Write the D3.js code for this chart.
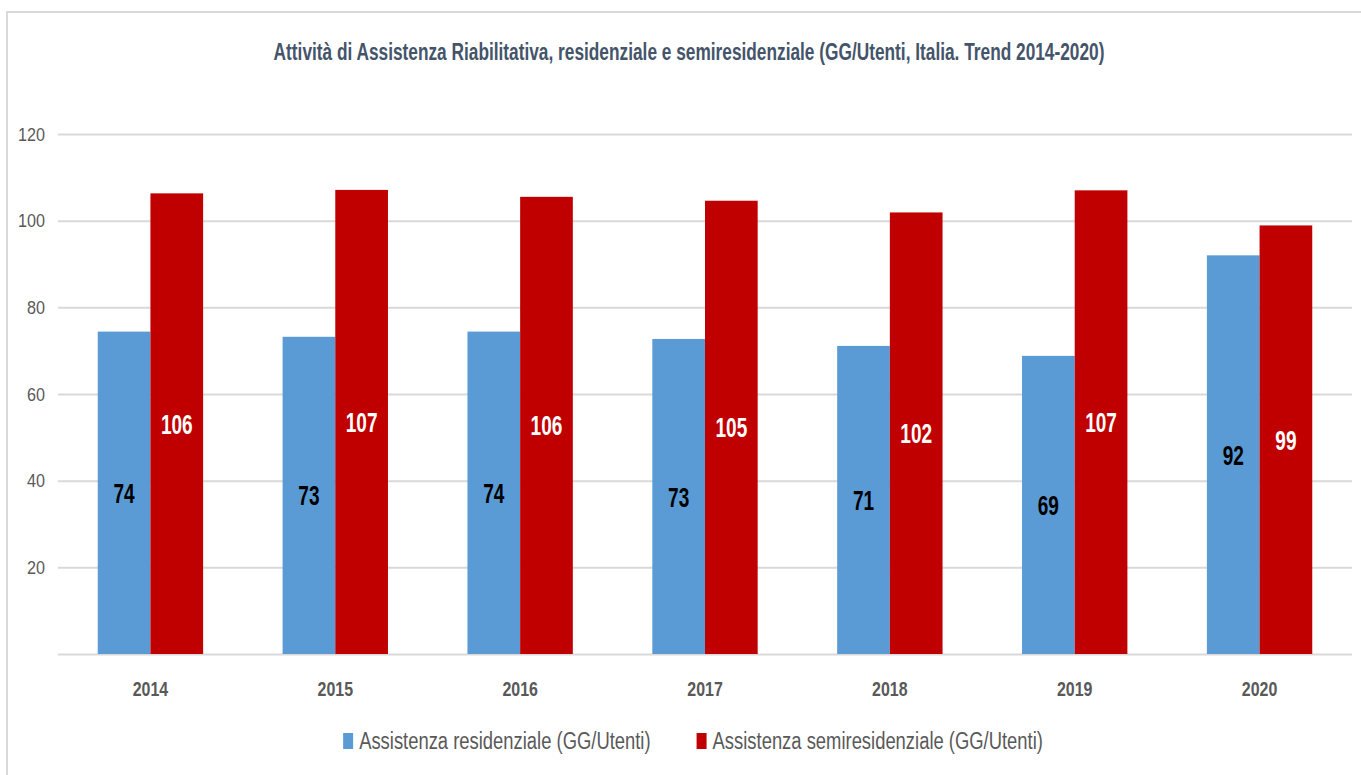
<!DOCTYPE html>
<html>
<head>
<meta charset="utf-8">
<script src="https://cdn.jsdelivr.net/npm/d3@7"></script>
<style>
  body { margin: 0; background: #fff; }
  svg { display: block; font-family: "Liberation Sans Narrow", "Liberation Sans", sans-serif; }
</style>
</head>
<body>
<div id="chart"></div>
<script>
///// Data

let years = ["2014", "2015", "2016", "2017", "2018", "2019", "2020"];
let residenziale = [74.4, 73.2, 74.4, 72.7, 71.1, 68.8, 92.0];
let semiresidenziale = [106.3, 107.1, 105.5, 104.6, 101.9, 107.0, 98.9];
let seriesNames = ["Assistenza residenziale (GG/Utenti)", "Assistenza semiresidenziale (GG/Utenti)"];
let yTicks = [20, 40, 60, 80, 100, 120];
let titleText = "Attività di Assistenza Riabilitativa, residenziale e semiresidenziale (GG/Utenti, Italia. Trend 2014-2020)";

///// Layout

let W = 1361, H = 775;
let margin = { top: 134, right: 9, bottom: 121, left: 58 },
    width = W - margin.left - margin.right,
    height = H - margin.top - margin.bottom;

let colors = ["#5b9bd5", "#c00000"];
let labelColors = ["#000000", "#ffffff"];

// the reference font is narrow: squeeze glyphs horizontally
function squeeze(sel, k) {
    sel.each(function() {
        let len = this.getComputedTextLength();
        d3.select(this).attr("textLength", len * k).attr("lengthAdjust", "spacingAndGlyphs");
    });
}

let svg = d3.select("#chart").append("svg")
    .attr("width", W)
    .attr("height", H);

svg.append("rect").attr("width", W).attr("height", H).attr("fill", "#fff");

// chart frame (top and left edge visible)
svg.append("path")
    .attr("d", `M7,${H} V12 H${W}`)
    .attr("fill", "none")
    .attr("stroke", "#d9d9d9")
    .attr("stroke-width", 2);

// title (scaled horizontally to mimic the condensed face)
svg.append("text")
    .attr("transform", "translate(689,60) scale(0.72,1)")
    .attr("text-anchor", "middle")
    .attr("font-size", 24)
    .attr("font-weight", "bold")
    .attr("fill", "#44546a")
    .text(titleText);

let g = svg.append("g")
    .attr("transform", `translate(${margin.left},${margin.top})`);

// scales
let x0 = d3.scaleBand().domain(years).range([0, width]).paddingInner(0.43).paddingOuter(0.215);
let x1 = d3.scaleBand().domain([0, 1]).range([0, x0.bandwidth()]);
let y = d3.scaleLinear().domain([0, 120]).range([height, 0]);

// gridlines + y labels
let yAxis = g.append("g")
    .attr("class", "y axis")
    .call(d3.axisLeft(y).tickValues([0].concat(yTicks)).tickSize(-width).tickFormat(d => d === 0 ? "" : d));
yAxis.select(".domain").remove();
yAxis.attr("font-size", 19).attr("font-family", null);
yAxis.selectAll(".tick line").attr("stroke", "#d9d9d9").attr("stroke-width", 2);
yAxis.selectAll(".tick text")
    .attr("x", -13)
    .attr("fill", "#595959")
    .call(squeeze, 0.85);

// bars
let rows = years.map((yr, i) => ({ year: yr, values: [residenziale[i], semiresidenziale[i]] }));

let groups = g.selectAll(".grp")
    .data(rows)
    .enter().append("g")
    .attr("class", "grp")
    .attr("transform", d => `translate(${x0(d.year)},0)`);

groups.selectAll("rect")
    .data(d => d.values.map((v, s) => ({ s: s, v: v })))
    .enter().append("rect")
    .attr("x", d => x1(d.s))
    .attr("width", x1.bandwidth())
    .attr("y", d => y(d.v))
    .attr("height", d => height - y(d.v))
    .attr("fill", d => colors[d.s]);

// data labels, centred in the bar
groups.selectAll(".lbl")
    .data(d => d.values.map((v, s) => ({ s: s, v: v })))
    .enter().append("text")
    .attr("class", "lbl")
    .attr("x", d => x1(d.s) + x1.bandwidth() / 2)
    .attr("y", d => (y(d.v) + height) / 2)
    .attr("dy", "0.36em")
    .attr("text-anchor", "middle")
    .attr("font-size", 28)
    .attr("font-weight", "bold")
    .attr("fill", d => labelColors[d.s])
    .text(d => d3.format(".0f")(d.v))
    .call(squeeze, 0.68);

// x labels
let xAxis = g.append("g")
    .attr("class", "x axis")
    .attr("transform", `translate(0,${height})`)
    .call(d3.axisBottom(x0).tickSize(0).tickPadding(27));
xAxis.select(".domain").remove();
xAxis.attr("font-size", 21).attr("font-family", null).attr("font-weight", "bold");
xAxis.selectAll(".tick text")
    .attr("fill", "#595959")
    .call(squeeze, 0.76);

// legend
let legend = svg.append("g").attr("class", "legend");
let items = legend.selectAll(".item")
    .data(seriesNames)
    .enter().append("g")
    .attr("class", "item");

items.append("rect")
    .attr("width", 10)
    .attr("height", 16)
    .attr("y", -8)
    .attr("fill", (d, i) => colors[i]);

items.append("text")
    .attr("x", 16)
    .attr("dy", "0.36em")
    .attr("font-size", 23)
    .attr("fill", "#595959")
    .text(d => d)
    .call(squeeze, 0.8);

let offs = [], cur = 0;
items.each(function() {
    offs.push(cur);
    cur += this.getBBox().width + 46;
});
let totalW = cur - 46;
items.attr("transform", (d, i) => `translate(${693 - totalW / 2 + offs[i]},741)`);
</script>
</body>
</html>
